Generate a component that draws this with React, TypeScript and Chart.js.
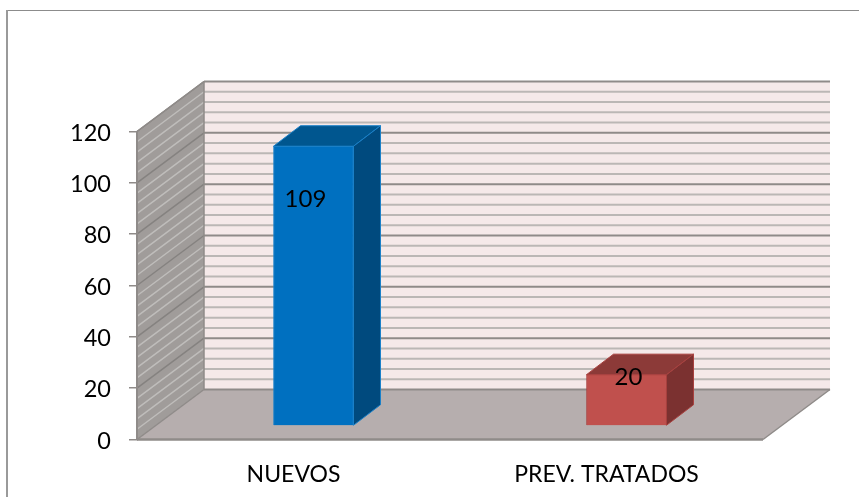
import React, { useEffect, useRef } from "react";
import { Chart, registerables } from "chart.js";

Chart.register(...registerables);

const categories = ["NUEVOS", "PREV. TRATADOS"];
const values = [109, 20];
const valueLabels = ["109", "20"];
const frontColors = ["#0070C0", "#C0504D"];
const topColors = ["#00568F", "#8C3A38"];
const sideColors = ["#004A7E", "#7B3130"];
const edgeColors = ["#1A80C8", "#A8413F"];
const yTicks = [0, 20, 40, 60, 80, 100, 120];
const minorStep = 4;
const font = "Lato, 'Open Sans', sans-serif";

// projection of the pseudo-3D box
const DEPTH_X = 67;
const DEPTH_Y = -50;
const BAR_SHIFT_X = 20;
const BAR_SHIFT_Y = -13.5;
const BAR_DX = 27;
const BAR_DY = -20.5;
const LABEL_OFFSETS = [
  [-8, 53],
  [2, 3],
];

const poly = (ctx: CanvasRenderingContext2D, pts: number[][], fill?: string, stroke?: string, lw = 1) => {
  ctx.beginPath();
  pts.forEach((p, i) => (i ? ctx.lineTo(p[0], p[1]) : ctx.moveTo(p[0], p[1])));
  ctx.closePath();
  if (fill) {
    ctx.fillStyle = fill;
    ctx.fill();
  }
  if (stroke) {
    ctx.strokeStyle = stroke;
    ctx.lineWidth = lw;
    ctx.stroke();
  }
};

const seg = (ctx: CanvasRenderingContext2D, x1: number, y1: number, x2: number, y2: number, color: string, lw: number) => {
  ctx.beginPath();
  ctx.moveTo(x1, y1);
  ctx.lineTo(x2, y2);
  ctx.strokeStyle = color;
  ctx.lineWidth = lw;
  ctx.stroke();
};

const wallsPlugin = {
  id: "walls",
  beforeDraw(chart: any) {
    const { ctx, chartArea: a, scales } = chart;
    const y = scales.y;
    ctx.save();
    // outer frame
    seg(ctx, 6, 10.5, 859, 10.5, "#8C8C8C", 1.2);
    seg(ctx, 7, 10, 7, 497, "#9A9A9A", 2);
    const L = a.left, R = a.right, T = a.top, B = a.bottom;
    // back wall
    poly(ctx, [[L + DEPTH_X, T + DEPTH_Y], [R + DEPTH_X, T + DEPTH_Y], [R + DEPTH_X, B + DEPTH_Y], [L + DEPTH_X, B + DEPTH_Y]], "#F5E9E9");
    // left wall
    poly(ctx, [[L, T], [L + DEPTH_X, T + DEPTH_Y], [L + DEPTH_X, B + DEPTH_Y], [L, B]], "#A09C9A");
    // floor
    poly(ctx, [[L, B], [R, B], [R + DEPTH_X, B + DEPTH_Y], [L + DEPTH_X, B + DEPTH_Y]], "#B6AEAE");
    const max = y.max;
    for (let v = minorStep; v < max; v += minorStep) {
      if (v % 20 === 0) continue;
      const py = y.getPixelForValue(v);
      seg(ctx, L + DEPTH_X, py + DEPTH_Y, R + DEPTH_X, py + DEPTH_Y, "#BBB7B5", 2);
      seg(ctx, L, py, L + DEPTH_X, py + DEPTH_Y, "#BFBDBB", 1.5);
    }
    yTicks.forEach((v) => {
      const py = y.getPixelForValue(v);
      if (v !== 0) {
        seg(ctx, L + DEPTH_X, py + DEPTH_Y, R + DEPTH_X, py + DEPTH_Y, "#8F8B89", 2);
        seg(ctx, L, py, L + DEPTH_X, py + DEPTH_Y, "#858280", 1.5);
      }
    });
    // edges
    seg(ctx, L + DEPTH_X, B + DEPTH_Y, R + DEPTH_X, B + DEPTH_Y, "#8F8B89", 2);
    seg(ctx, L, B, L + DEPTH_X, B + DEPTH_Y, "#8F8B89", 1.5);
    seg(ctx, R, B, R + DEPTH_X, B + DEPTH_Y, "#8F8B89", 1.5);
    seg(ctx, L + DEPTH_X, T + DEPTH_Y, L + DEPTH_X, B + DEPTH_Y, "#8F8B89", 1.5);
    seg(ctx, L, T, L + DEPTH_X, T + DEPTH_Y, "#8F8B89", 1.5);
    seg(ctx, L, B, R, B, "#8F8B89", 2.5);
    ctx.restore();
  },
  beforeDatasetDraw(chart: any, args: any) {
    const { ctx } = chart;
    const meta = args.meta;
    ctx.save();
    ctx.translate(BAR_SHIFT_X, BAR_SHIFT_Y);
    meta.data.forEach((bar: any, i: number) => {
      const { x, y, base, width } = bar.getProps(["x", "y", "base", "width"], true);
      const l = x - width / 2;
      const r = x + width / 2;
      poly(ctx, [[l, y], [r, y], [r + BAR_DX, y + BAR_DY], [l + BAR_DX, y + BAR_DY]], topColors[i], edgeColors[i], 1);
      poly(ctx, [[r, y], [r + BAR_DX, y + BAR_DY], [r + BAR_DX, base + BAR_DY], [r, base]], sideColors[i], edgeColors[i], 1);
    });
  },
  afterDatasetDraw(chart: any) {
    chart.ctx.restore();
  },
  afterDatasetsDraw(chart: any) {
    const { ctx } = chart;
    const meta = chart.getDatasetMeta(0);
    ctx.save();
    ctx.fillStyle = "#000";
    ctx.font = `24px ${font}`;
    ctx.textAlign = "center";
    ctx.textBaseline = "middle";
    meta.data.forEach((bar: any, i: number) => {
      const { x, y } = bar.getProps(["x", "y"], true);
      ctx.fillText(valueLabels[i], x + BAR_SHIFT_X + LABEL_OFFSETS[i][0], y + BAR_SHIFT_Y + LABEL_OFFSETS[i][1]);
    });
    ctx.restore();
  },
};

export default function App() {
  const ref = useRef<HTMLCanvasElement>(null);
  useEffect(() => {
    const chart = new Chart(ref.current as HTMLCanvasElement, {
      type: "bar",
      data: {
        labels: categories,
        datasets: [
          {
            data: values,
            backgroundColor: frontColors,
            borderColor: edgeColors,
            borderWidth: 1,
            barThickness: 80,
            clip: false as any,
          },
        ],
      },
      options: {
        animation: false,
        responsive: false,
        devicePixelRatio: 1,
        layout: { padding: { left: 0, right: 96, top: 131.5, bottom: 0 } },
        plugins: { legend: { display: false }, tooltip: { enabled: false }, title: { display: false } },
        scales: {
          x: {
            grid: { display: false, drawTicks: false },
            border: { display: false },
            ticks: { color: "#000", font: { family: font, size: 23 }, padding: 21, maxRotation: 0 },
            afterFit: (s: any) => {
              s.height = 57.5;
            },
          },
          y: {
            min: 0,
            max: 120,
            afterFit: (s: any) => {
              s.width = 137;
            },
            afterBuildTicks: (s: any) => {
              s.ticks = yTicks.map((value) => ({ value }));
            },
            grid: { drawOnChartArea: false, drawTicks: true, tickLength: 8, color: "#8F8B89", lineWidth: 1.5 },
            border: { display: true, color: "#8F8B89", width: 2 },
            ticks: { color: "#000", font: { family: font, size: 23.5 }, padding: 18, labelOffset: 1.5 },
          },
        },
      },
      plugins: [wallsPlugin],
    } as any);
    return () => chart.destroy();
  }, []);
  return (
    <div style={{ position: "fixed", left: 0, top: 0, width: 859, height: 497, background: "#fff" }}>
      <canvas ref={ref} width={859} height={497} style={{ display: "block", width: 859, height: 497 }} />
    </div>
  );
}
